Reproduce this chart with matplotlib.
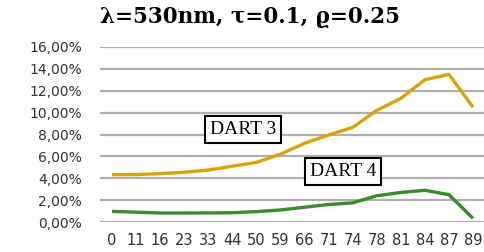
import matplotlib
matplotlib.use("Agg")
import matplotlib.pyplot as plt
from matplotlib.ticker import FuncFormatter

categories = ["0", "11", "16", "23", "33", "44", "50", "59", "66", "71", "74", "78", "81", "84", "87", "89"]
dart3 = [4.33, 4.33, 4.42, 4.55, 4.75, 5.1, 5.45, 6.2, 7.2, 7.95, 8.65, 10.2, 11.3, 13.0, 13.5, 10.5]
dart4 = [0.97, 0.9, 0.82, 0.82, 0.83, 0.85, 0.95, 1.1, 1.35, 1.6, 1.75, 2.4, 2.7, 2.9, 2.5, 0.33]
yticks = [0, 2, 4, 6, 8, 10, 12, 14, 16]

fig = plt.figure(figsize=(4.85, 2.52), dpi=100)
ax = fig.add_axes([100/485, 1 - 222/252, 385/485, 175/252])

x = list(range(len(categories)))
ax.plot(x, dart3, color="#D9A40A", lw=2.4, solid_capstyle="butt")
ax.plot(x, dart4, color="#3C8A2E", lw=2.4, solid_capstyle="butt")

ax.set_xlim(-0.5, len(categories) - 0.5)
ax.set_ylim(0, 16)
ax.set_yticks(yticks)
ax.yaxis.set_major_formatter(FuncFormatter(lambda v, p: f"{v:.2f}%".replace(".", ",")))
ax.set_xticks(x)
ax.set_xticklabels(categories)
ax.grid(axis="y", color="#B0B0B0", lw=1.6)
ax.set_axisbelow(True)
for s in ax.spines.values():
    s.set_visible(False)
ax.tick_params(axis="both", length=0, colors="#333333")
ax.tick_params(axis="y", labelsize=10, pad=13)
ax.tick_params(axis="x", labelsize=10.5, pad=8)

box = dict(boxstyle="square,pad=0.25", fc="white", ec="black", lw=1.5)
ax.text(5.45, 8.45, "DART 3", family="Liberation Serif", fontsize=14, ha="center", va="center", bbox=box)
ax.text(9.6, 4.65, "DART 4", family="Liberation Serif", fontsize=14, ha="center", va="center", bbox=box)

fig.text(250/485, 1 - 17/252, "λ=530nm, τ=0.1, ϱ=0.25", family="DejaVu Serif",
         fontsize=15.5, fontweight="bold", ha="center", va="center")

fig.savefig("out.png", dpi=100)
